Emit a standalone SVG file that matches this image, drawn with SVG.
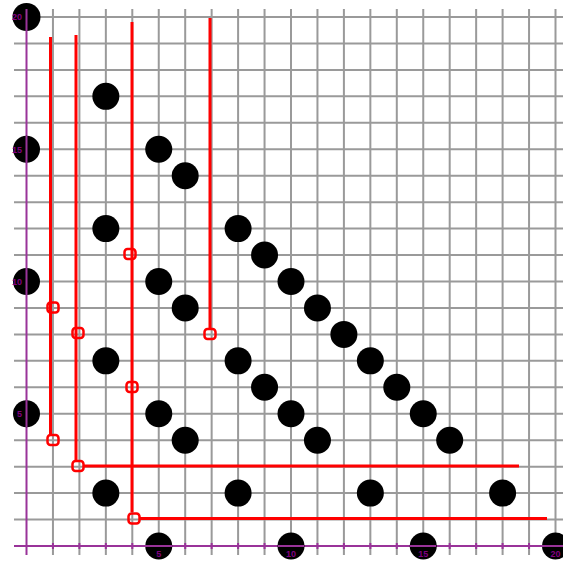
<svg xmlns="http://www.w3.org/2000/svg" width="563" height="561" viewBox="0 0 563 561">
<style>
.grid{stroke:#9a9a9a;stroke-width:2;fill:none}
.axis{stroke:#993399;stroke-width:2;fill:none}
.red{stroke:#ff0000;stroke-width:3;fill:none}
.sq{stroke:#ff0000;stroke-width:2.5;fill:none}
.dot{fill:#000}
.lbl{font-family:"Liberation Sans",Arial,sans-serif;font-size:9px;fill:#800080;font-weight:bold}
</style>
<rect width="563" height="561" fill="#fff"/>
<g id="grid">
<path class="grid" d="M52.95 9V555M79.4 9V555M105.85 9V555M132.3 9V555M158.75 9V555M185.2 9V555M211.65 9V555M238.1 9V555M264.55 9V555M291 9V555M317.45 9V555M343.9 9V555M370.35 9V555M396.8 9V555M423.25 9V555M449.7 9V555M476.15 9V555M502.6 9V555M529.05 9V555M555.5 9V555"/>
<path class="grid" d="M14 519.55H563M14 493.1H563M14 466.65H563M14 440.2H563M14 413.75H563M14 387.3H563M14 360.85H563M14 334.4H563M14 307.95H563M14 281.5H563M14 255.05H563M14 228.6H563M14 202.15H563M14 175.7H563M14 149.25H563M14 122.8H563M14 96.35H563M14 69.9H563M14 43.45H563M14 17H563"/>
</g>
<g id="axes">
<path class="axis" d="M26.5 9V555M14 546H563"/>
<path class="axis" d="M52.95 543V549M79.4 543V549M105.85 543V549M132.3 543V549M158.75 543V549M185.2 543V549M211.65 543V549M238.1 543V549M264.55 543V549M291 543V549M317.45 543V549M343.9 543V549M370.35 543V549M396.8 543V549M423.25 543V549M449.7 543V549M476.15 543V549M502.6 543V549M529.05 543V549"/>
</g>
<g id="connectors">
<path class="red" d="M50.5 37V434M76 35V460M132 22V512M210 18V328"/>
<path class="red" d="M84 466H519M140 518.5H547"/>
<rect class="sq" x="47.5" y="302.5" width="11" height="10" rx="3"/>
<rect class="sq" x="47.5" y="435" width="11" height="10" rx="3"/>
<rect class="sq" x="72.5" y="328" width="11" height="10" rx="3"/>
<rect class="sq" x="72.5" y="461" width="11" height="10" rx="3"/>
<rect class="sq" x="124.5" y="249" width="11" height="10" rx="3"/>
<rect class="sq" x="126.5" y="382" width="11" height="10" rx="3"/>
<rect class="sq" x="128.5" y="513.5" width="11" height="10" rx="3"/>
<rect class="sq" x="204.5" y="329" width="11" height="10" rx="3"/>
</g>
<g id="dots">
<circle class="dot" cx="105.85" cy="96.35" r="13.5"/>
<circle class="dot" cx="158.75" cy="149.25" r="13.5"/>
<circle class="dot" cx="185.2" cy="175.7" r="13.5"/>
<circle class="dot" cx="105.85" cy="228.6" r="13.5"/>
<circle class="dot" cx="238.1" cy="228.6" r="13.5"/>
<circle class="dot" cx="264.55" cy="255.05" r="13.5"/>
<circle class="dot" cx="291" cy="281.5" r="13.5"/>
<circle class="dot" cx="317.45" cy="307.95" r="13.5"/>
<circle class="dot" cx="343.9" cy="334.4" r="13.5"/>
<circle class="dot" cx="370.35" cy="360.85" r="13.5"/>
<circle class="dot" cx="396.8" cy="387.3" r="13.5"/>
<circle class="dot" cx="423.25" cy="413.75" r="13.5"/>
<circle class="dot" cx="449.7" cy="440.2" r="13.5"/>
<circle class="dot" cx="158.75" cy="281.5" r="13.5"/>
<circle class="dot" cx="185.2" cy="307.95" r="13.5"/>
<circle class="dot" cx="105.85" cy="360.85" r="13.5"/>
<circle class="dot" cx="238.1" cy="360.85" r="13.5"/>
<circle class="dot" cx="264.55" cy="387.3" r="13.5"/>
<circle class="dot" cx="291" cy="413.75" r="13.5"/>
<circle class="dot" cx="317.45" cy="440.2" r="13.5"/>
<circle class="dot" cx="158.75" cy="413.75" r="13.5"/>
<circle class="dot" cx="185.2" cy="440.2" r="13.5"/>
<circle class="dot" cx="105.85" cy="493.1" r="13.5"/>
<circle class="dot" cx="238.1" cy="493.1" r="13.5"/>
<circle class="dot" cx="370.35" cy="493.1" r="13.5"/>
<circle class="dot" cx="502.6" cy="493.1" r="13.5"/>
</g>
<g id="axis-dots">
<circle class="dot" cx="26.5" cy="17" r="14"/>
<circle class="dot" cx="26.5" cy="149.25" r="13.5"/>
<circle class="dot" cx="26.5" cy="281.5" r="13.5"/>
<circle class="dot" cx="26.5" cy="413.75" r="13.5"/>
<circle class="dot" cx="158.75" cy="546" r="13.5"/>
<circle class="dot" cx="291" cy="546" r="13.5"/>
<circle class="dot" cx="423.25" cy="546" r="13.5"/>
<circle class="dot" cx="555.5" cy="546" r="13.5"/>
<path class="axis" d="M26.5 9V31M26.5 136V163M26.5 268V295M26.5 400V427M145 546H172M278 546H304M410 546H436M542 546H563"/>
</g>
<g id="labels">
<text class="lbl" x="22" y="20" text-anchor="end">20</text>
<text class="lbl" x="22" y="152.5" text-anchor="end">15</text>
<text class="lbl" x="22" y="285" text-anchor="end">10</text>
<text class="lbl" x="22" y="417" text-anchor="end">5</text>
<text class="lbl" x="158.75" y="557" text-anchor="middle">5</text>
<text class="lbl" x="291" y="557" text-anchor="middle">10</text>
<text class="lbl" x="423.25" y="557" text-anchor="middle">15</text>
<text class="lbl" x="555.5" y="557" text-anchor="middle">20</text>
</g>
</svg>
